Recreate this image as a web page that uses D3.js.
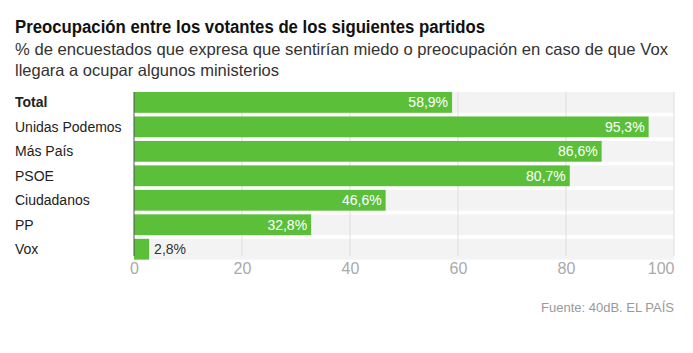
<!DOCTYPE html>
<html>
<head>
<meta charset="utf-8">
<script src="https://cdn.jsdelivr.net/npm/d3@7"></script>
<style>
body{margin:0;background:#fff;}
text{font-family:"Liberation Sans",Arial,sans-serif;}
</style>
</head>
<body>
<div id="chart"></div>
<script>
let categories=["Total","Unidas Podemos","Más País","PSOE","Ciudadanos","PP","Vox"];
let values=[58.9,95.3,86.6,80.7,46.6,32.8,2.8];
let ticks=[0,20,40,60,80,100];

let width=693, height=353;
let plotLeft=134, plotRight=674, plotTop=92, plotBottom=256;

let svg=d3.select("#chart").append("svg")
  .attr("width",width).attr("height",height);

// title, squeezed to the condensed width of the original
svg.append("text").text("Preocupación entre los votantes de los siguientes partidos")
  .attr("x",15).attr("y",33)
  .attr("textLength",470).attr("lengthAdjust","spacingAndGlyphs")
  .style("font-weight","bold").style("font-size","18px").style("fill","#111");

let sub=["% de encuestados que expresa que sentirían miedo o preocupación en caso de que Vox",
  "llegara a ocupar algunos ministerios"];
let subLen=[653,264];
svg.selectAll(".sub").data(sub).enter().append("text")
  .attr("class","sub")
  .attr("x",15).attr("y",(d,i)=>55+i*21)
  .attr("textLength",(d,i)=>subLen[i]).attr("lengthAdjust","spacingAndGlyphs")
  .text(d=>d)
  .style("font-size","16.5px").style("fill","#333");

let x=d3.scaleLinear().domain([0,100]).range([plotLeft,plotRight]);
let y=d3.scaleBand().domain(categories).range([plotTop,plotBottom+3.6]).paddingInner(0.15).paddingOuter(0);

// background bands
svg.selectAll(".band").data(categories).enter().append("rect")
  .attr("x",x(0)).attr("width",x(100)-x(0))
  .attr("y",d=>y(d)).attr("height",y.bandwidth())
  .attr("fill","#f3f3f3");

// grid
svg.selectAll(".grid").data(ticks.slice(1)).enter().append("line")
  .attr("x1",d=>x(d)).attr("x2",d=>x(d))
  .attr("y1",plotTop).attr("y2",plotBottom)
  .attr("stroke","#e2e2e2").attr("stroke-width",1.2);

// bars
svg.selectAll(".bar").data(values).enter().append("rect")
  .attr("x",x(0)).attr("width",d=>x(d)-x(0))
  .attr("y",(d,i)=>y(categories[i])).attr("height",y.bandwidth())
  .attr("fill","#5bbf3a");

// zero line
svg.append("line").attr("x1",x(0)).attr("x2",x(0)).attr("y1",plotTop).attr("y2",plotBottom)
  .attr("stroke","#555").attr("stroke-width",1);

// value labels
svg.selectAll(".val").data(values).enter().append("text")
  .attr("x",d=>d<10?x(d)+5:x(d)-4)
  .attr("y",(d,i)=>y(categories[i])+y.bandwidth()/2+5)
  .attr("text-anchor",d=>d<10?"start":"end")
  .text(d=>d.toFixed(1).replace(".",",")+"%")
  .style("font-size","14px")
  .style("fill",d=>d<10?"#333":"#fff");

// category labels
svg.selectAll(".cat").data(categories).enter().append("text")
  .attr("x",15).attr("y",d=>y(d)+y.bandwidth()/2+5)
  .text(d=>d)
  .style("font-size","14px").style("fill","#222")
  .style("font-weight",(d,i)=>i==0?"bold":"normal");

// x axis
let xAxis=d3.axisBottom(x).tickValues(ticks).tickSize(0).tickPadding(7);
let g=svg.append("g").attr("transform","translate(0,"+plotBottom+")").call(xAxis);
g.select(".domain").remove();
g.selectAll("text").style("font-size","16px").style("fill","#aaa")
  .style("font-family","'Liberation Sans',Arial,sans-serif")
  .attr("text-anchor",d=>d==100?"end":"middle");

svg.append("text").text("Fuente: 40dB. EL PAÍS")
  .attr("x",674).attr("y",312).attr("text-anchor","end")
  .style("font-size","13px").style("fill","#999");
</script>
</body>
</html>
